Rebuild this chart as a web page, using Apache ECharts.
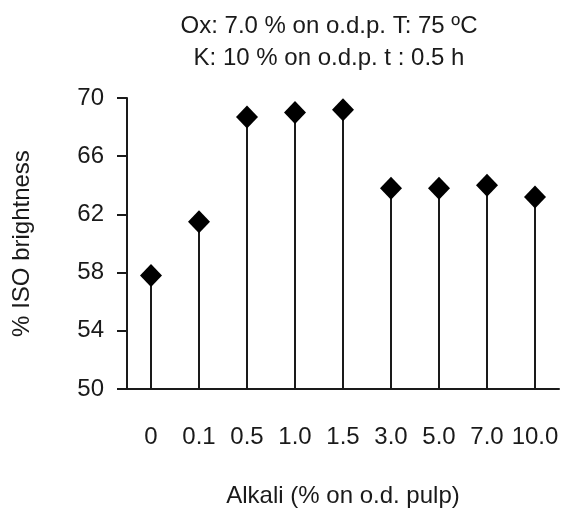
<!DOCTYPE html>
<html>
<head>
<meta charset="utf-8">
<script src="https://cdn.jsdelivr.net/npm/echarts@6/dist/echarts.min.js"></script>
<style>
  html, body {margin: 0; padding: 0; background: #fff;}
  #chart {width: 565px; height: 513px;}
</style>
</head>
<body>
<div id="chart"></div>
<script>
// alkali charge (% on o.d. pulp)
const alkali = ['0', '0.1', '0.5', '1.0', '1.5', '3.0', '5.0', '7.0', '10.0'];
// % ISO brightness
const brightness = [57.8, 61.5, 68.7, 69.0, 69.2, 63.8, 63.8, 64.0, 63.2];
const yTicks = {min: 50, max: 70, step: 4};

const font = 'Liberation Sans, Arial, Helvetica, sans-serif';
const ink = '#1a1a1a';

const chart = echarts.init(document.getElementById('chart'));
chart.setOption({
  animation: false,
  backgroundColor: '#fff',
  title: {
    text: 'Ox: 7.0 % on o.d.p. T: 75 ºC\nK: 10 % on o.d.p. t : 0.5 h',
    left: 324,
    top: 5,
    textAlign: 'center',
    textStyle: {fontFamily: font, fontSize: 24, fontWeight: 'normal', color: ink, lineHeight: 32}
  },
  grid: {left: 127, right: 6, top: 98, bottom: 121},
  xAxis: {
    type: 'category',
    data: alkali,
    name: 'Alkali (% on o.d. pulp)',
    nameLocation: 'middle',
    nameGap: 95,
    nameTextStyle: {fontFamily: font, fontSize: 24, color: ink},
    axisLine: {lineStyle: {color: ink, width: 2}},
    axisTick: {show: false},
    axisLabel: {fontFamily: font, fontSize: 24, color: ink, margin: 36, interval: 0}
  },
  yAxis: {
    type: 'value',
    min: yTicks.min,
    max: yTicks.max,
    interval: yTicks.step,
    name: '% ISO brightness',
    nameLocation: 'middle',
    nameGap: 93,
    nameTextStyle: {fontFamily: font, fontSize: 24, color: ink},
    splitLine: {show: false},
    axisLine: {show: true, lineStyle: {color: ink, width: 2}},
    axisTick: {show: true, length: 10, lineStyle: {color: ink, width: 2}},
    axisLabel: {fontFamily: font, fontSize: 24, color: ink, margin: 23}
  },
  series: [
    {
      type: 'bar',
      data: brightness,
      barWidth: 2,
      itemStyle: {color: ink},
      silent: true,
      z: 1
    },
    {
      type: 'scatter',
      data: brightness,
      symbol: 'diamond',
      symbolSize: [22, 23],
      itemStyle: {color: '#000', opacity: 1},
      z: 3
    }
  ]
});
</script>
</body>
</html>
